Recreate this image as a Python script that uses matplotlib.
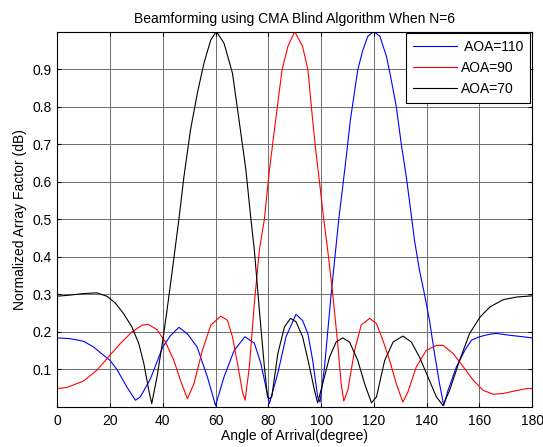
import matplotlib
matplotlib.use('Agg')
import matplotlib.pyplot as plt
import numpy as np

plt.rcParams['font.family'] = ['Liberation Sans', 'DejaVu Sans']

# values
blue_x = [0, 4.8, 10, 13.7, 17.5, 20, 22.6, 26.4, 29.6, 31.5, 35.3, 40, 42.9, 46.1, 49.3, 53, 56.9, 60,
          63.2, 67, 71.1, 74.7, 77.2, 80.4, 83.6, 86.7, 90.5, 93, 95, 96.8, 98.7, 99.6, 101.3, 103.8,
          106.7, 108.2, 109.7, 111.1, 112.6, 113.9, 115.8, 117.7, 120, 122.3, 124.8, 126.6, 128.5,
          130.4, 132.3, 134.4, 135.4, 137.3, 139.2, 141.1, 143, 144.9, 146.5, 148.1, 151.3, 154.4,
          157, 160, 164, 166.5, 171.5, 176.6, 180]
blue_y = [0.184, 0.182, 0.175, 0.16, 0.138, 0.124, 0.10, 0.053, 0.018, 0.027, 0.075, 0.16, 0.19, 0.212,
          0.195, 0.16, 0.08, 0.004, 0.08, 0.15, 0.187, 0.17, 0.115, 0.009, 0.09, 0.187, 0.247, 0.23,
          0.195, 0.125, 0.027, 0.013, 0.107, 0.30, 0.5, 0.587, 0.676, 0.764, 0.836, 0.898, 0.95,
          0.987, 1.0, 0.987, 0.933, 0.871, 0.80, 0.70, 0.613, 0.5, 0.444, 0.364, 0.30, 0.23, 0.142,
          0.062, 0.004, 0.044, 0.107, 0.15, 0.178, 0.187, 0.194, 0.196, 0.191, 0.187, 0.184]

red_x = [0, 3.6, 9.9, 15, 20, 23.9, 28.3, 32.1, 34.5, 37.8, 41, 44.2, 46.7, 49.3, 51.8, 55, 58.2, 62,
         64.5, 66.4, 68.3, 70.2, 71.2, 72.8, 74.7, 76.6, 78.5, 80.4, 82.3, 83.6, 85.2, 87.4, 90,
         93, 95, 96.8, 98.1, 99.6, 101, 102.5, 104.4, 106.3, 107.6, 108.6, 110.1, 112.7, 115.2,
         118.4, 121, 123.4, 126, 128.5, 131, 132.9, 136.1, 139.9, 143.7, 146.3, 150.1, 153.9,
         157.7, 161.5, 165.3, 169.1, 174.2, 178, 180]
red_y = [0.049, 0.052, 0.069, 0.098, 0.138, 0.169, 0.20, 0.218, 0.22, 0.206, 0.173, 0.124, 0.071,
         0.022, 0.062, 0.151, 0.218, 0.242, 0.231, 0.187, 0.116, 0.04, 0.018, 0.107, 0.276, 0.418,
         0.5, 0.63, 0.738, 0.81, 0.898, 0.96, 1.0, 0.96, 0.898, 0.764, 0.676, 0.587, 0.5, 0.418,
         0.302, 0.169, 0.062, 0.016, 0.044, 0.151, 0.218, 0.236, 0.222, 0.178, 0.124, 0.062, 0.013,
         0.04, 0.107, 0.151, 0.164, 0.164, 0.142, 0.107, 0.071, 0.044, 0.034, 0.036, 0.044, 0.049,
         0.049]

black_x = [0, 4.8, 9.9, 15, 18.8, 22, 25.1, 28.3, 30.9, 32.8, 34.7, 35.8, 37.8, 40, 41.6, 43.6, 46.1,
           48, 50.5, 53.1, 55.6, 58.2, 60.3, 63.2, 66.4, 68.9, 71.5, 73.4, 74.7, 76.6, 78.5, 79.7,
           80.4, 81.3, 83.6, 86.1, 88.4, 90.5, 93, 95.6, 97.5, 98.7, 100.6, 103.2, 105.7, 108.2,
           110.8, 113.9, 116.5, 119.1, 121, 124.1, 127.3, 131, 134.2, 137.3, 140.5, 143.7, 146.2,
           148.7, 152.5, 156.3, 160.3, 164.1, 169.1, 174.2, 180]
black_y = [0.295, 0.298, 0.302, 0.304, 0.295, 0.277, 0.249, 0.213, 0.169, 0.116, 0.044, 0.009, 0.08,
           0.178, 0.258, 0.364, 0.5, 0.613, 0.738, 0.836, 0.916, 0.978, 1.0, 0.969, 0.889, 0.764,
           0.631, 0.5, 0.418, 0.258, 0.107, 0.027, 0.022, 0.027, 0.142, 0.213, 0.236, 0.227, 0.187,
           0.107, 0.044, 0.011, 0.062, 0.133, 0.173, 0.184, 0.173, 0.124, 0.062, 0.011, 0.027, 0.124,
           0.173, 0.189, 0.173, 0.133, 0.08, 0.027, 0.004, 0.044, 0.124, 0.196, 0.24, 0.267, 0.286,
           0.293, 0.296]

labels = [' AOA=110', 'AOA=90', 'AOA=70']
x_ticks = np.arange(0, 181, 20)
y_ticks = [0.1, 0.2, 0.3, 0.4, 0.5, 0.6, 0.7, 0.8, 0.9]

fig = plt.figure(figsize=(5.43, 4.47), dpi=100)
ax = fig.add_axes([0.1055, 0.0895, 0.8745, 0.84])

ax.plot(blue_x, blue_y, color='blue', linewidth=0.8, label=labels[0])
ax.plot(red_x, red_y, color='red', linewidth=0.8, label=labels[1])
ax.plot(black_x, black_y, color='black', linewidth=0.8, label=labels[2])

ax.set_xlim(0, 180)
ax.set_ylim(0, 1)
ax.set_xticks(x_ticks)
ax.set_yticks(y_ticks)
ax.set_yticklabels([f'{v:g}' for v in y_ticks])
ax.tick_params(direction='in', top=True, right=True, labelsize=10, length=3)
ax.tick_params(axis='x', pad=5)
ax.tick_params(axis='y', pad=4)
ax.grid(True, color='#6e6e6e', linewidth=0.7, linestyle='-')
ax.set_axisbelow(True)
for s in ax.spines.values():
    s.set_linewidth(0.8)

ax.set_title('Beamforming using CMA Blind Algorithm When N=6', fontsize=10, pad=6)
ax.set_xlabel('Angle of Arrival(degree)', fontsize=10, labelpad=1)
ax.set_ylabel('Normalized Array Factor (dB)', fontsize=10, labelpad=4)

leg = ax.legend(loc='upper right', fontsize=10, handlelength=3.2, fancybox=False,
                framealpha=1, edgecolor='black', borderaxespad=0.12, labelspacing=0.5,
                handletextpad=0.3, borderpad=0.5)
leg.get_frame().set_linewidth(0.8)

fig.savefig('out.png', dpi=100)
